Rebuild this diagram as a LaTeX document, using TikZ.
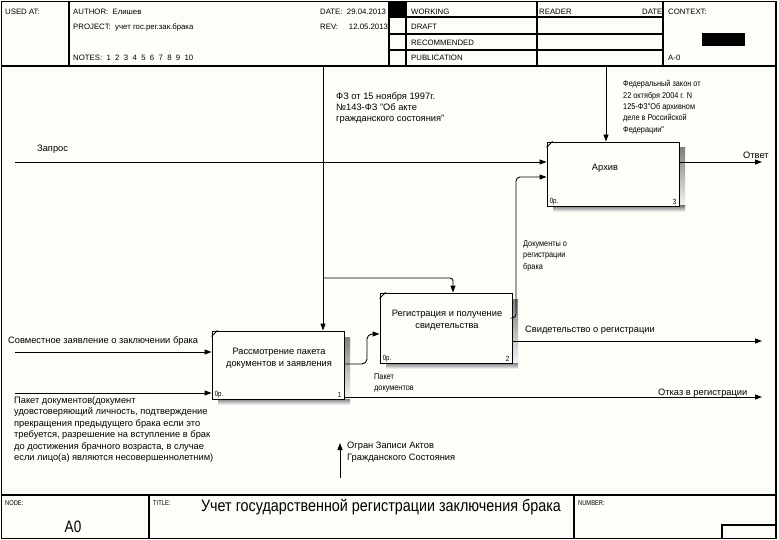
\documentclass[tikz,border=0pt]{standalone}
\usepackage{fontspec}
\setmainfont{Liberation Sans}
\newfontfamily\narrowf[FakeStretch=0.82]{Liberation Sans}
\newfontfamily\semif[FakeStretch=0.87]{Liberation Sans}
\usetikzlibrary{arrows.meta}
\definecolor{bgc}{RGB}{255,253,247}
\definecolor{shade}{RGB}{165,165,165}
\tikzset{
  frameline/.style={line width=1.1pt, line cap=rect},
  flow/.style={line width=0.9pt, -{Triangle[length=7pt,width=5pt]}},
  conn/.style={line width=0.9pt},
  fbox/.style={draw, line width=0.9pt, fill=bgc, inner sep=0, minimum width=132pt},
  lbl/.style={font=\fontsize{9.3}{11.4}\selectfont, inner sep=0, anchor=base west},
  mlbl/.style={font=\fontsize{9.3}{11.4}\selectfont, inner sep=0, anchor=north west, align=left},
  slbl/.style={font=\semif\fontsize{8.4}{11.3}\selectfont, inner sep=0, anchor=north west, align=left},
  hdr/.style={font=\fontsize{7.8}{10}\selectfont, inner sep=0, anchor=base west},
  ftr/.style={font=\narrowf\fontsize{7}{9}\selectfont, inner sep=0, anchor=base west},
  boxtxt/.style={font=\fontsize{9.3}{12.2}\selectfont, inner sep=0, align=center},
  corner/.style={font=\narrowf\fontsize{7.5}{9}\selectfont, inner sep=0},
}
\begin{document}
\begin{tikzpicture}[x=1pt,y=-1pt]
\useasboundingbox (0,0) rectangle (779,540);
\fill[bgc] (0,0) rectangle (779,540);

% frame
\draw[frameline] (1.5,1.5) rectangle (776,538.5);
\draw[frameline] (1.5,66) -- (776,66);
\draw[frameline] (1.5,495) -- (776,495);
\draw[frameline] (69,1.5) -- (69,66);
\draw[frameline] (389,1.5) -- (389,66);
\draw[frameline] (406,1.5) -- (406,66);
\draw[frameline] (537,1.5) -- (537,66);
\draw[frameline] (663,1.5) -- (663,66);
\draw[frameline] (389,17) -- (663,17);
\draw[frameline] (389,34) -- (663,34);
\draw[frameline] (389,50) -- (663,50);
\fill (389,1.5) rectangle (406,17);
\fill (702,33) rectangle (745,46);
\draw[frameline] (149,495) -- (149,538.5);
\draw[frameline] (574,495) -- (574,538.5);
\draw[frameline] (722,538.5) -- (722,525) -- (776,525);

% header texts
\node[hdr] (usedat) at (5,14.5) {USED AT:};
\node[hdr] (author) at (73,14.5) {AUTHOR:\ \ Елишев};
\node[hdr] (project) at (73,29.5) {PROJECT:\ \ учет гос.рег.зак.брака};
\node[hdr] (notes) at (73,61) {NOTES:\ \ 1\ \ 2\ \ 3\ \ 4\ \ 5\ \ 6\ \ 7\ \ 8\ \ 9\ \ 10};
\node[hdr] (date) at (320,14.5) {DATE:\ \ 29.04.2013};
\node[hdr] (rev) at (320,29.5) {REV:\ \ \ \ \ 12.05.2013};
\node[hdr] (working) at (411,14.5) {WORKING};
\node[hdr] (draft) at (411,30) {DRAFT};
\node[hdr] (recom) at (411,46) {RECOMMENDED};
\node[hdr] (publ) at (411,61) {PUBLICATION};
\node[hdr] (reader) at (539,14.5) {READER};
\node[hdr] (rdate) at (642,14.5) {DATE};
\node[hdr] (context) at (668,14.5) {CONTEXT:};
\node[hdr] (am0) at (668,61) {A-0};

% footer texts
\node[ftr] (nodel) at (5,505) {NODE:};
\node[ftr] (titlel) at (153,505) {TITLE:};
\node[ftr] (numberl) at (578,505) {NUMBER:};
\node[font=\semif\fontsize{16.5}{18}\selectfont, inner sep=0] (title) at (381,507.5) {Учет государственной регистрации заключения брака};
\node[font=\narrowf\fontsize{16.5}{18}\selectfont, inner sep=0] (a0) at (73,527) {A0};

% shadows
\fill[shade] (344,337) rectangle (350,405);
\fill[shade] (218,399) rectangle (350,405);
\fill[shade] (512,299) rectangle (518,369);
\fill[shade] (386,363) rectangle (518,369);
\fill[shade] (679,148) rectangle (685,212);
\fill[shade] (553,206) rectangle (685,212);

% boxes
\node[fbox, minimum height=68pt] (b1) at (278,365) {};
\node[fbox, minimum height=70pt] (b2) at (446,328) {};
\node[fbox, minimum height=64pt] (b3) at (613,174) {};
\foreach \b in {b1,b2,b3}{
  \draw[conn] ([yshift=-6pt]\b.north west) -- ([xshift=6pt]\b.north west);
}
\node[boxtxt] (t1) at (279,358) {Рассмотрение пакета\\документов и заявления};
\node[boxtxt] (t2) at (447,320) {Регистрация и получение\\свидетельства};
\node[boxtxt] (t3) at (605,168) {Архив};
\node[corner, anchor=south west] (op1) at ([xshift=3pt,yshift=1.5pt]b1.south west) {0р.};
\node[corner, anchor=south east] (n1) at ([xshift=-3pt,yshift=1.5pt]b1.south east) {1};
\node[corner, anchor=south west] (op2) at ([xshift=3pt,yshift=1.5pt]b2.south west) {0р.};
\node[corner, anchor=south east] (n2) at ([xshift=-3pt,yshift=1.5pt]b2.south east) {2};
\node[corner, anchor=south west] (op3) at ([xshift=3pt,yshift=1.5pt]b3.south west) {0р.};
\node[corner, anchor=south east] (n3) at ([xshift=-3pt,yshift=1.5pt]b3.south east) {3};

% coordinates
\coordinate (zin) at (15,162);
\coordinate (otv) at (762,162);
\coordinate (cin) at (15,352);
\coordinate (pin) at (15,393);
\coordinate (fz1) at (323,66);
\coordinate (br) at (323,278);
\coordinate (brc) at (453,278);
\coordinate (fz2) at (606,66);
\coordinate (d1) at (516,318);
\coordinate (d2) at (516,177);
\coordinate (p1) at (367,364);
\coordinate (p2) at (367,334);
\coordinate (svid) at (762,341);
\coordinate (otk) at (762,397);
\coordinate (mb) at (340,478);
\coordinate (mt) at (340,443);

% arrows
\draw[flow] (zin) -- (zin -| b3.west);
\draw[flow] (otv -| b3.east) -- (otv);
\draw[flow] (cin) -- (cin -| b1.west);
\draw[flow] (pin) -- (pin -| b1.west);
\draw[flow] (fz1) -- (fz1 |- b1.north);
\draw[flow, rounded corners=3pt] (br) -- (brc) -- (brc |- b2.north);
\draw[flow] (fz2) -- (fz2 |- b3.north);
\draw[flow, rounded corners=4pt] (b2.east |- d1) -- (d1) -- (d2) -- (d2 -| b3.west);
\draw[flow, rounded corners=5pt] (b1.east |- p1) -- (p1) -- (p2) -- (p2 -| b2.west);
\draw[flow] (svid -| b2.east) -- (svid);
\draw[flow] (otk -| b1.east) -- (otk);
\draw[flow] (mb) -- (mt);

% labels
\node[lbl] (lzap) at (37,151.5) {Запрос};
\node[lbl] (lotv) at (743,159) {Ответ};
\node[lbl] (lsov) at (8,343.5) {Совместное заявление о заключении брака};
\node[mlbl] (lpak) at (14,396.5) {Пакет документов(документ\\удовстоверяющий личность, подтверждение\\прекращения предыдущего брака если это\\требуется, разрешение на вступление в брак\\до достижения брачного возраста, в случае\\если лицо(а) являются несовершеннолетним)};
\node[lbl] (lsvid) at (525,332.5) {Свидетельство о регистрации};
\node[lbl] (lotk) at (658,395) {Отказ в регистрации};
\node[mlbl] (lfz1) at (336,92) {ФЗ от 15 ноября 1997г.\\№143-ФЗ "Об акте\\гражданского состояния"};
\node[slbl] (lfz2) at (623,80.5) {Федеральный закон от\\22 октября 2004 г. N\\125-ФЗ"Об архивном\\деле в Российской\\Федерации"};
\node[slbl] (ldoc) at (523,240.5) {Документы о\\регистрации\\брака};
\node[slbl] (lpk) at (374,373.5) {Пакет\\документов};
\node[mlbl] (lorg) at (347,442) {Огран Записи Актов\\Гражданского Состояния};
\end{tikzpicture}
\end{document}
